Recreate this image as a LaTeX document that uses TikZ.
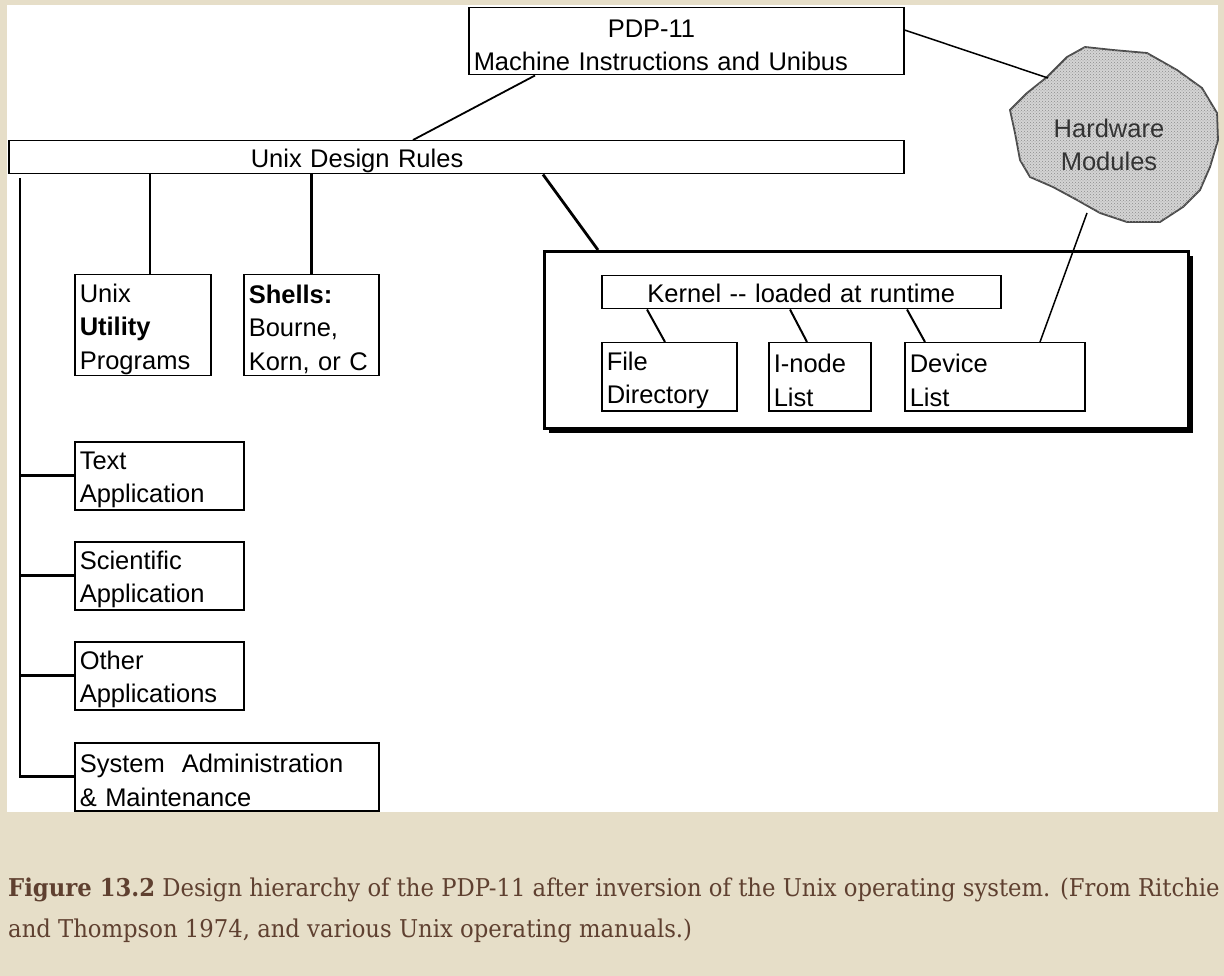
\documentclass[tikz,border=0pt]{standalone}
\usepackage{fontspec}
\setmainfont{Liberation Sans}
\newfontfamily\capfont{DejaVu Serif}[FakeStretch=0.928]
\usetikzlibrary{calc,patterns}
\definecolor{paper}{RGB}{230,222,200}
\definecolor{capbrown}{RGB}{95,64,48}
\definecolor{hwgray}{RGB}{212,212,212}
\newcommand{\drawheavy}{\draw[line width=2.8pt]}
\newcommand{\drawlight}{\draw[line width=1.5pt]}
\tikzset{
  every node/.style={font=\fontsize{25.5}{33.5}\selectfont},
  unit/.style n args={3}{draw, line width=1.5pt, fill=white, anchor=north west,
    inner xsep=5pt, inner ysep=0pt, text width=#1, minimum height=#2, align=#3,
    execute at begin node={\rule[-6pt]{0pt}{32pt}}},
  capline/.style={anchor=base west, inner sep=0pt, text=capbrown,
    font=\capfont\fontsize{24.5}{30}\selectfont}
}
\begin{document}
\begin{tikzpicture}[x=1pt,y=-1pt]
\fill[paper] (0,0) rectangle (1224,976);
\fill[white] (7,5) rectangle (1218,812);
\useasboundingbox (0,0) rectangle (1224,976);

% machine and rules
\node[unit={425pt}{67pt}{left}] (pdp) at (468,7) {\hspace*{134pt}PDP-11\\Machine Instructions and Unibus};
\node[unit={885pt}{33pt}{left}] (unix) at (8,140) {\hspace*{237pt}Unix Design Rules};

% hardware blob
\draw[line width=1.8pt, draw=black!70, fill=hwgray, postaction={pattern=crosshatch dots, pattern color=black!45}]
  (1085,47) -- (1113,50) -- (1147,53) -- (1177,70)
  -- (1202,88) -- (1217,113) -- (1218,140) -- (1210,167) -- (1200,190) -- (1183,207)
  -- (1160,222) -- (1127,222) -- (1100,213) -- (1077,200) -- (1053,187) -- (1030,177)
  -- (1020,160) -- (1015,133) -- (1010,110) -- (1027,93) -- (1047,77) -- (1067,57) -- cycle;
\node[text=black!80, align=center] (hw) at (1109,145) {Hardware\\Modules};
\coordinate (hwleft) at (1048,78);
\coordinate (hwfoot) at (1087,213);

% programs and applications
\node[unit={126pt}{101pt}{left}] (util) at (74,274) {Unix\\\textbf{Utility}\\Programs};
\node[unit={125pt}{101pt}{left}] (shells) at (243,274) {\textbf{Shells:}\\Bourne,\\Korn, or C};
\node[unit={159pt}{68pt}{left}] (textapp) at (74,441) {Text\\Application};
\node[unit={159pt}{68pt}{left}] (sciapp) at (74,541) {Scientific\\Application};
\node[unit={159pt}{68pt}{left}] (otherapp) at (74,641) {Other\\Applications};
\node[unit={294pt}{68pt}{left}] (sysadm) at (74,742) {System\ \ Administration\\\& Maintenance};

% kernel case with shadow
\fill (549,256) rectangle (1193,433);
\node[draw, line width=2.6pt, fill=white, anchor=north west, inner sep=0pt,
  minimum width=644pt, minimum height=177pt] (kerncase) at (543,250) {};
\node[unit={389pt}{33pt}{center}] (kernel) at (601,275) {Kernel -\kern0pt- loaded at runtime};
\node[unit={125pt}{68pt}{left}] (filedir) at (601,342) {File\\Directory};
\node[unit={92pt}{68pt}{left}] (inode) at (768,342) {I-node\\List};
\node[unit={170pt}{68pt}{left}] (devlist) at (904,342) {Device\\List};

% connectors
\draw[line width=1.8pt] ($(pdp.south west)+(67,0)$) -- ($(unix.north west)+(405,0)$);
\drawlight ($(pdp.north east)+(0,23)$) -- (hwleft);
\coordinate (utiltop) at ($(util.north west)+(76,0)$);
\drawlight (utiltop) -- (utiltop |- unix.south);
\drawheavy (shells.north) -- (shells.north |- unix.south);
\drawheavy ($(unix.south west)+(535,0)$) -- ($(kerncase.north west)+(55,0)$);
\coordinate (spinetop) at ($(unix.south west)+(12,4)$);
\drawheavy (spinetop) |- (sysadm.west);
\foreach \app in {textapp,sciapp,otherapp}
  \drawheavy (spinetop |- \app.west) -- (\app.west);
\draw[line width=2pt] ($(kernel.south west)+(46,0)$) -- ($(filedir.north west)+(64,0)$);
\draw[line width=2pt] ($(kernel.south west)+(189,0)$) -- ($(inode.north west)+(39,0)$);
\draw[line width=2pt] ($(kernel.south west)+(306,0)$) -- ($(devlist.north west)+(21,0)$);
\drawlight ($(devlist.north west)+(136,0)$) -- (hwfoot);

% caption
\node[capline] (capone) at (8,896) {\textbf{Figure 13.2} Design hierarchy of the PDP-11 after inversion of the Unix operating system. (From Ritchie};
\node[capline] (captwo) at (8,937) {and Thompson 1974, and various Unix operating manuals.)};
\end{tikzpicture}
\end{document}
